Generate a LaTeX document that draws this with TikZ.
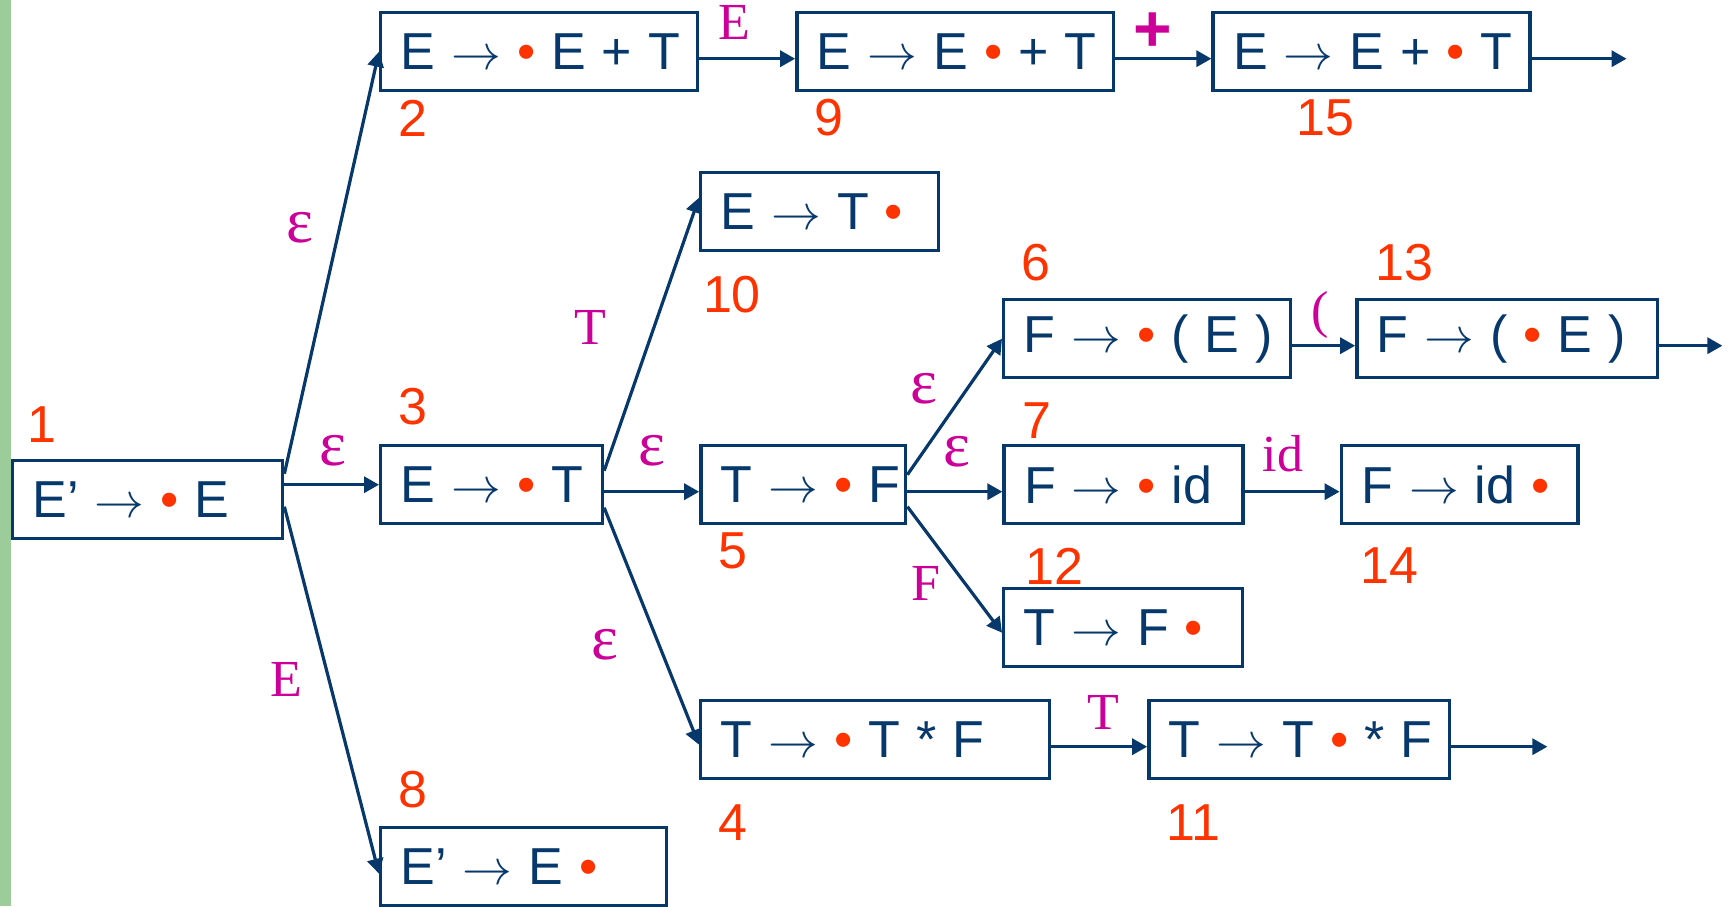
\documentclass[tikz,border=0pt]{standalone}
\usepackage{fontspec}
\setmainfont{Liberation Sans}
\newfontfamily\seriffont{Liberation Serif}
\usepackage{xcolor}
\definecolor{ItemNavy}{HTML}{07386B}
\definecolor{DotRed}{HTML}{FF3300}
\definecolor{StateRed}{HTML}{FF3300}
\definecolor{EdgeMagenta}{HTML}{CC0099}
\definecolor{BarGreen}{HTML}{9CCC9A}
\usepackage{tikz}
\usetikzlibrary{arrows.meta,positioning}
\newcommand{\itemdot}{\textcolor{DotRed}{\textbullet}}
\newcommand{\prodarrow}{$\rightarrow$}
\newcommand{\eps}{{\fontsize{32}{34}\selectfont ε}}

\begin{document}
\begin{tikzpicture}[
  x=0.5pt,y=-0.5pt,
  item/.style={draw=ItemNavy,line width=1.7pt,text=ItemNavy,font=\fontsize{26}{30}\selectfont,text width=#1,align=left,inner xsep=10pt,minimum height=39pt,
    execute at begin node={\spaceskip=8pt\leavevmode\hbox\bgroup},execute at end node={\egroup}},
  arr/.style={-{Triangle[length=7.5pt,width=8pt]},line width=1.6pt,ItemNavy},
  lbl/.style={text=EdgeMagenta,font=\seriffont\fontsize{26}{30}\selectfont,inner sep=0pt},
  num/.style={text=StateRed,font=\fontsize{26}{30}\selectfont,inner sep=0pt}
]
  \useasboundingbox (0,0) rectangle (1731,906);
  \fill[BarGreen] (0,0) rectangle (11,906);

  % items
  \node[item=115pt,anchor=north west] (n1) at (11,459) {E’ \prodarrow{} \itemdot{} E};
  \node[item=138.4pt,anchor=north west] (n2) at (379,11) {E \prodarrow{} \itemdot{} E + T};
  \node[item=138.4pt,right=48pt of n2] (n9) {E \prodarrow{} E \itemdot{} + T};
  \node[item=138.4pt,right=48pt of n9] (n15) {E \prodarrow{} E + \itemdot{} T};
  \node[item=98.9pt,anchor=north west] (n10) at (699,171) {E \prodarrow{} T \itemdot};
  \node[item=123.4pt,anchor=north west] (n6) at (1002,298) {F \prodarrow{} \itemdot{} ( E )};
  \node[item=130.4pt,right=31.5pt of n6] (n13) {F \prodarrow{} ( \itemdot{} E )};
  \node[item=90.9pt,anchor=north west] (n3) at (379,444) {E \prodarrow{} \itemdot{} T};
  \node[item=82.4pt,right=47.5pt of n3] (n5) {T \prodarrow{} \itemdot{} F};
  \node[item=99.4pt,right=47.5pt of n5] (n7) {F \prodarrow{} \itemdot{} id};
  \node[item=98.4pt,right=47.5pt of n7] (n14) {F \prodarrow{} id \itemdot};
  \node[item=99.4pt,anchor=north west] (n12) at (1002,587) {T \prodarrow{} F \itemdot};
  \node[item=154.4pt,anchor=north west] (n4) at (699,699) {T \prodarrow{} \itemdot{} T * F};
  \node[item=130.4pt,right=48pt of n4] (n11) {T \prodarrow{} T \itemdot{} * F};
  \node[item=122.9pt,anchor=north west] (n8) at (379,826) {E’ \prodarrow{} E \itemdot};

  % state numbers
  \node[num] (k1) at (42,425) {1};
  \node[num] (k2) at (413,118) {2};
  \node[num] (k9) at (829,118) {9};
  \node[num] (k15) at (1325,118) {15};
  \node[num] (k10) at (732,295) {10};
  \node[num] (k6) at (1036,263) {6};
  \node[num] (k13) at (1404,263) {13};
  \node[num] (k3) at (413,407) {3};
  \node[num] (k7) at (1037,421) {7};
  \node[num] (k5) at (733,551) {5};
  \node[num] (k12) at (1054,566) {12};
  \node[num] (k14) at (1389,566) {14};
  \node[num] (k4) at (733,823) {4};
  \node[num] (k11) at (1193,823) {11};
  \node[num] (k8) at (413,790) {8};

  % free ends
  \coordinate (e15) at ([xshift=47.5pt,yshift=-3.5pt]n15.east);
  \coordinate (e13) at ([xshift=31.5pt,yshift=-3.5pt]n13.east);
  \coordinate (e11) at ([xshift=48pt,yshift=-3.5pt]n11.east);

  % transitions
  \draw[arr] ([yshift=13pt]n1.east) -- (n2.west);
  \draw[arr] (n1.east |- n3.west) -- (n3.west);
  \draw[arr] ([yshift=-3.5pt]n1.east) -- ([yshift=-3.5pt]n8.west);
  \draw[arr] ([yshift=-3.5pt]n2.east) -- ([yshift=-3.5pt]n9.west);
  \draw[arr] ([yshift=-3.5pt]n9.east) -- ([yshift=-3.5pt]n15.west);
  \draw[arr] (n15.east |- e15) -- (e15);
  \draw[arr] ([yshift=7pt]n3.east) -- ([yshift=7pt]n10.west);
  \draw[arr] ([yshift=-3.5pt]n3.east) -- ([yshift=-3.5pt]n5.west);
  \draw[arr] ([yshift=-11.5pt]n3.east) -- ([yshift=-2.5pt]n4.west);
  \draw[arr] ([yshift=5pt]n5.east) -- (n6.west);
  \draw[arr] ([yshift=-3.5pt]n5.east) -- ([yshift=-3.5pt]n7.west);
  \draw[arr] ([yshift=-11pt]n5.east) -- ([yshift=-2.5pt]n12.west);
  \draw[arr] ([yshift=-3.5pt]n6.east) -- ([yshift=-3.5pt]n13.west);
  \draw[arr] (n13.east |- e13) -- (e13);
  \draw[arr] ([yshift=-3.5pt]n7.east) -- ([yshift=-3.5pt]n14.west);
  \draw[arr] ([yshift=-3.5pt]n4.east) -- ([yshift=-3.5pt]n11.west);
  \draw[arr] (n11.east |- e11) -- (e11);

  % transition symbols
  \node[lbl] (s29) at (734,22) {E};
  \node[lbl,font=\bfseries\fontsize{33}{36}\selectfont] (s915) at (1153,32) {+};
  \node[lbl] (s12) at (300,228) {\eps};
  \node[lbl] (s13) at (333,451) {\eps};
  \node[lbl] (s18) at (286,679) {E};
  \node[lbl] (s310) at (590,327) {T};
  \node[lbl] (s35) at (652,451) {\eps};
  \node[lbl] (s34) at (605,645) {\eps};
  \node[lbl] (s56) at (924,389) {\eps};
  \node[lbl] (s57) at (957,452) {\eps};
  \node[lbl] (s512) at (926,583) {F};
  \node[lbl] (s613) at (1320,315) {(};
  \node[lbl] (s714) at (1283,454) {id};
  \node[lbl] (s411) at (1103,712) {T};
\end{tikzpicture}
\end{document}
